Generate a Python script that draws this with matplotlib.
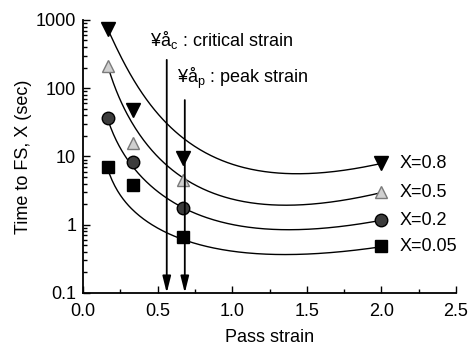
import numpy as np
import matplotlib
matplotlib.use("Agg")
import matplotlib.pyplot as plt

plt.rcParams['font.family'] = ['Liberation Sans', 'DejaVu Sans']
plt.rcParams['mathtext.fontset'] = 'custom'
plt.rcParams['mathtext.rm'] = 'Liberation Sans'
plt.rcParams['mathtext.it'] = 'Liberation Sans'

# measured points (pass strain vs time to fraction softened)
strain = [0.167, 0.333, 0.667, 2.0]
t_08 = [730, 48, 9.5, 8.0]
t_05 = [215, 16, 4.5, 3.0]
t_02 = [37, 8.3, 1.75, 1.17]
t_005 = [7.0, 3.8, 0.65, 0.48]

# fitted curves
curve_x = [0.167, 0.261, 0.414, 0.561, 0.682, 0.862, 1.083, 1.45, 2.0]
curve_08 = [714, 277, 72, 29, 18.7, 10.5, 6.8, 5.4, 8.0]
curve_05 = [205, 63, 14.7, 7.5, 5.0, 3.0, 2.15, 1.88, 3.0]
curve_02 = [34, 12.5, 4.2, 2.47, 1.76, 1.26, 0.90, 0.84, 1.17]
curve_005 = [6.3, 2.6, 1.10, 0.76, 0.62, 0.47, 0.385, 0.36, 0.48]

labels = ['X=0.8', 'X=0.5', 'X=0.2', 'X=0.05']

eps_c = 0.561   # critical strain
eps_p = 0.682   # peak strain

fig = plt.figure(figsize=(4.72, 3.5), dpi=100)
ax = fig.add_axes([0.176, 0.163, 0.790, 0.780])

styles = [
    dict(marker='v', color='black', mfc='black', mec='black', ms=10),
    dict(marker='^', color='black', mfc='#d0d0d0', mec='#7a7a7a', ms=9),
    dict(marker='o', color='black', mfc='#3c3c3c', mec='black', ms=9),
    dict(marker='s', color='black', mfc='black', mec='black', ms=8.5),
]

xs = np.linspace(min(curve_x), max(curve_x), 200)
for pts, cv, st, lab in zip([t_08, t_05, t_02, t_005],
                            [curve_08, curve_05, curve_02, curve_005],
                            styles, labels):
    # smooth line through the read curve points
    p = np.polyfit(np.log(curve_x), np.log10(cv), 4)
    ax.plot(xs, 10 ** np.polyval(p, np.log(xs)), color='black', lw=1.0)
    ax.plot(strain, pts, linestyle='none', **st)
    ax.text(2.12, pts[-1], lab, fontsize=13, va='center', ha='left')

# arrows for critical and peak strain
ax.annotate('', xy=(eps_c, 0.1), xytext=(eps_c, 260),
            arrowprops=dict(arrowstyle='-|>,head_length=1.0,head_width=0.25',
                            color='black', lw=1.3, shrinkA=0, shrinkB=0))
ax.annotate('', xy=(eps_p, 0.1), xytext=(eps_p, 67),
            arrowprops=dict(arrowstyle='-|>,head_length=1.0,head_width=0.25',
                            color='black', lw=1.3, shrinkA=0, shrinkB=0))
ax.text(0.448, 509, '¥å$_{\\mathrm{c}}$ : critical strain', fontsize=13, va='center', ha='left')
ax.text(0.628, 141, '¥å$_{\\mathrm{p}}$ : peak strain', fontsize=13, va='center', ha='left')

ax.set_yscale('log')
ax.set_xlim(0, 2.5)
ax.set_ylim(0.1, 1000)
ax.set_xticks([0.0, 0.5, 1.0, 1.5, 2.0, 2.5])
ax.set_xticklabels(['0.0', '0.5', '1.0', '1.5', '2.0', '2.5'])
ax.set_xticks([0.25, 0.75, 1.25, 1.75, 2.25], minor=True)
ax.set_yticks([0.1, 1, 10, 100, 1000])
ax.set_yticklabels(['0.1', '1', '10', '100', '1000'])

ax.spines['top'].set_visible(False)
ax.spines['right'].set_visible(False)
for s in ['left', 'bottom']:
    ax.spines[s].set_linewidth(1.3)
ax.tick_params(which='both', direction='in', labelsize=13, width=1.0)
ax.tick_params(which='major', length=5)
ax.tick_params(axis='x', which='major', pad=7)
ax.tick_params(axis='y', which='major', pad=5)
ax.tick_params(which='minor', length=3)

ax.set_xlabel('Pass strain', fontsize=13, labelpad=7)
ax.set_ylabel('Time to FS, X (sec)', fontsize=13, labelpad=3)

fig.savefig('out.png', dpi=100)
